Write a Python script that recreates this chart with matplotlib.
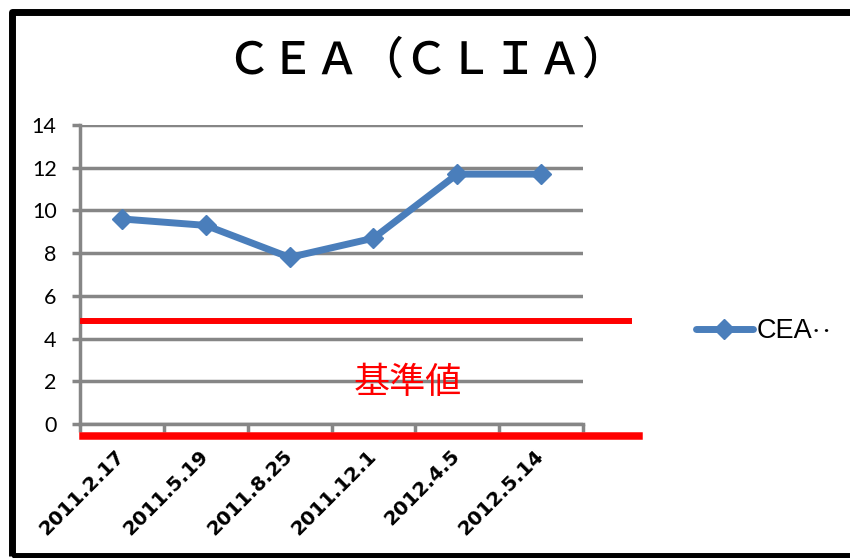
import matplotlib
matplotlib.use("Agg")
import matplotlib.pyplot as plt
from matplotlib.patches import Rectangle
from matplotlib.ticker import MultipleLocator, FixedLocator
from matplotlib.transforms import ScaledTranslation

# データ
dates = ["2011.2.17", "2011.5.19", "2011.8.25", "2011.12.1", "2012.4.5", "2012.5.14"]
cea = [9.6, 9.3, 7.8, 8.7, 11.7, 11.7]
ref_upper = 4.8
ref_lower = -0.55

blue = "#4A7EBB"
grid_gray = "#868686"

fig = plt.figure(figsize=(8.5, 5.58), dpi=100)
ax = fig.add_axes([80 / 850, 1 - 424 / 558, 503 / 850, 299 / 558])

x = list(range(len(dates)))
ax.plot(x, cea, color=blue, lw=5, marker="D", ms=10, mec=blue, mfc=blue,
        label="CEA", zorder=4, solid_joinstyle="round", solid_capstyle="round")

ax.set_xlim(-0.5, len(dates) - 0.5)
ax.set_ylim(0, 14)
ax.yaxis.set_major_locator(MultipleLocator(2))
ax.grid(axis="y", color=grid_gray, lw=2.5)
ax.set_axisbelow(True)

for s in ["top", "right"]:
    ax.spines[s].set_visible(False)
for s in ["left", "bottom"]:
    ax.spines[s].set_color(grid_gray)
    ax.spines[s].set_linewidth(2.5)

ax.set_xticks(x)
ax.set_xticklabels(dates, rotation=45, ha="right", va="center", rotation_mode="anchor",
                   fontsize=14.3, fontweight="bold", family="DejaVu Sans")
shift = ScaledTranslation(7 / 100, 0, fig.dpi_scale_trans)
for t in ax.get_xticklabels():
    t.set_transform(t.get_transform() + shift)
ax.xaxis.set_minor_locator(FixedLocator([i - 0.5 for i in range(len(dates) + 1)]))
ax.tick_params(axis="x", which="major", length=0, pad=21)
ax.tick_params(axis="x", which="minor", length=5.8, width=2.5, color=grid_gray)
ax.tick_params(axis="y", length=5.8, width=2.5, color=grid_gray, pad=11, labelsize=15.5)
for t in ax.get_yticklabels():
    t.set_family("Lato")

# 基準値ライン
ax.axhline(ref_upper, xmin=0.006, xmax=1.091, color="#FF0000", lw=4.3, clip_on=False, zorder=5)
ax.axhline(ref_lower, xmin=0.006, xmax=1.111, color="#FF0000", lw=5.4, clip_on=False, zorder=5)
ax.text(3.41, 1.92, "基準値", color="#FF0000", fontsize=26, ha="center", va="center",
        family=["Noto Sans CJK JP"], zorder=6)

fig.text(0.502, 1 - 61 / 558, "ＣＥＡ（ＣＬＩＡ）", fontsize=32, ha="center", va="center",
         family=["Noto Sans CJK JP"], fontweight="medium")

leg = ax.legend(loc="center left", bbox_to_anchor=(696 / 850, 1 - 331 / 558),
                bbox_transform=fig.transFigure, frameon=False, borderpad=0, borderaxespad=0,
                handlelength=2.1, handletextpad=0.12,
                prop={"family": ["Liberation Sans", "DejaVu Sans"], "size": 19.5})
# 凡例の省略記号（‥）
fig.text(811 / 850, 1 - 331 / 558, "\u2025", fontsize=15, ha="left", va="center",
         family=["Noto Sans CJK JP"], fontweight="bold")

fig.patches.append(Rectangle((11.5 / 850, 1 - 555.5 / 558), 1.05, (555.5 - 11.5) / 558,
                             transform=fig.transFigure, fill=False, ec="black", lw=5,
                             joinstyle="round"))

fig.savefig("out.png", dpi=100)
